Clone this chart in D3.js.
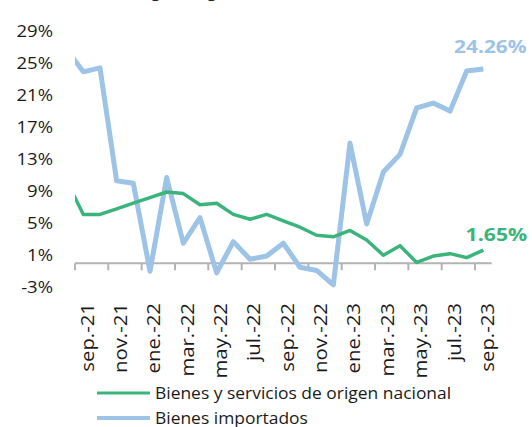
<!DOCTYPE html>
<html>
<head>
<meta charset="utf-8">
<script src="https://cdn.jsdelivr.net/npm/d3@7"></script>
<style>
    body { margin: 0; background: #fff; }
    svg { display: block; font-family: "Open Sans", "Noto Sans", sans-serif; }
</style>
</head>
<body>
<svg id="chart" width="532" height="427"></svg>
<script>
// months shown on the axis (first one sits left of the plot, only its segment shows)
var months = ["ago.-21", "sep.-21", "oct.-21", "nov.-21", "dic.-21", "ene.-22", "feb.-22", "mar.-22",
    "abr.-22", "may.-22", "jun.-22", "jul.-22", "ago.-22", "sep.-22", "oct.-22", "nov.-22", "dic.-22",
    "ene.-23", "feb.-23", "mar.-23", "abr.-23", "may.-23", "jun.-23", "jul.-23", "ago.-23", "sep.-23"];

var nacional = [10.3, 6.1, 6.1, 6.8, 7.5, 8.2, 8.9, 8.7, 7.3, 7.5, 6.1, 5.5, 6.1, 5.3, 4.5, 3.5, 3.3,
    4.1, 2.9, 1.0, 2.2, 0.1, 0.9, 1.2, 0.7, 1.65];
var importados = [26.7, 23.9, 24.4, 10.3, 10.0, -1.0, 10.7, 2.5, 5.7, -1.2, 2.7, 0.5, 0.9, 2.5, -0.5,
    -0.9, -2.7, 15.0, 4.9, 11.4, 13.6, 19.4, 20.0, 19.0, 24.0, 24.26];

var yTicks = [-3, 1, 5, 9, 13, 17, 21, 25, 29];
var seriesNames = ["Bienes y servicios de origen nacional", "Bienes importados"];
var colors = ["#3bb47c", "#9dc3e6"];

var svg = d3.select("#chart");

var x = d3.scaleBand().domain(months).range([58.3, 491.7]);
var y = d3.scaleLinear().domain([-3, 29]).range([287.3, 31]);
var half = x.bandwidth() / 2;

// title sits mostly above the crop
svg.append("text")
    .attr("x", 373).attr("y", -3)
    .attr("text-anchor", "end")
    .attr("font-size", 17)
    .attr("fill", "#222")
    .text("Inflación según origen de los bienes (%)");

svg.append("defs").append("clipPath").attr("id", "plot")
    .append("rect").attr("x", 75).attr("y", 0).attr("width", 440).attr("height", 300);

// y labels, no axis line
svg.append("g").selectAll("text")
    .data(yTicks)
    .enter().append("text")
    .attr("transform", function (d) { return "translate(53," + y(d) + ") scale(1.09,1)"; })
    .attr("dy", "0.35em")
    .attr("text-anchor", "end")
    .attr("font-size", 17)
    .attr("fill", "#1a1a1a")
    .text(function (d) { return d + "%"; });

// x axis at 0
var labelled = months.filter(function (d, i) { return i % 2 == 1; });
var ax = svg.append("g");
ax.append("line")
    .attr("x1", 75).attr("x2", 491.7)
    .attr("y1", y(0)).attr("y2", y(0))
    .attr("stroke", "#b3b3b3").attr("stroke-width", 2);
ax.selectAll(".tk")
    .data(labelled)
    .enter().append("line")
    .attr("class", "tk")
    .attr("x1", function (d) { return x(d); })
    .attr("x2", function (d) { return x(d); })
    .attr("y1", y(0)).attr("y2", y(0) + 7)
    .attr("stroke", "#b3b3b3").attr("stroke-width", 2);
ax.selectAll(".lb")
    .data(labelled)
    .enter().append("text")
    .attr("class", "lb")
    .attr("transform", function (d) {
        return "translate(" + (x(d) + half + 4) + "," + 303 + ") rotate(-90) scale(1.1,1)";
    })
    .attr("dy", "0.35em")
    .attr("text-anchor", "end")
    .attr("font-size", 18.5)
    .attr("fill", "#1a1a1a")
    .text(function (d) { return d; });

// lines
var line = d3.line()
    .x(function (d, i) { return x(months[i]) + half; })
    .y(function (d) { return y(d); });

var plot = svg.append("g").attr("clip-path", "url(#plot)");
plot.append("path")
    .datum(importados)
    .attr("fill", "none")
    .attr("stroke", colors[1])
    .attr("stroke-width", 5)
    .attr("stroke-linejoin", "round")
    .attr("d", line);
plot.append("path")
    .datum(nacional)
    .attr("fill", "none")
    .attr("stroke", colors[0])
    .attr("stroke-width", 3.5)
    .attr("stroke-linejoin", "round")
    .attr("d", line);

// end labels
var last = months.length - 1;
svg.append("text")
    .attr("transform", "translate(" + (x(months[last]) + half + 7) + "," + (y(importados[last]) - 16) + ") scale(1.16,1)")
    .attr("text-anchor", "middle")
    .attr("font-size", 18).attr("font-weight", "bold")
    .attr("fill", colors[1])
    .text(importados[last].toFixed(2) + "%");
svg.append("text")
    .attr("transform", "translate(" + (x(months[last]) + half + 13) + "," + (y(nacional[last]) - 9) + ") scale(1.18,1)")
    .attr("text-anchor", "middle")
    .attr("font-size", 18).attr("font-weight", "bold")
    .attr("fill", colors[0])
    .text(nacional[last].toFixed(2) + "%");

// legend
var lg = svg.append("g").selectAll("g")
    .data(seriesNames)
    .enter().append("g")
    .attr("transform", function (d, i) { return "translate(97," + (393 + i * 25) + ")"; });
lg.append("line")
    .attr("x1", 0).attr("x2", 53)
    .attr("stroke", function (d, i) { return colors[i]; })
    .attr("stroke-width", function (d, i) { return i ? 4 : 3; });
lg.append("text")
    .attr("transform", "translate(58,0) scale(1.09,1)")
    .attr("dy", "0.35em")
    .attr("font-size", 16)
    .attr("fill", "#1a1a1a")
    .text(function (d) { return d; });
</script>
</body>
</html>
